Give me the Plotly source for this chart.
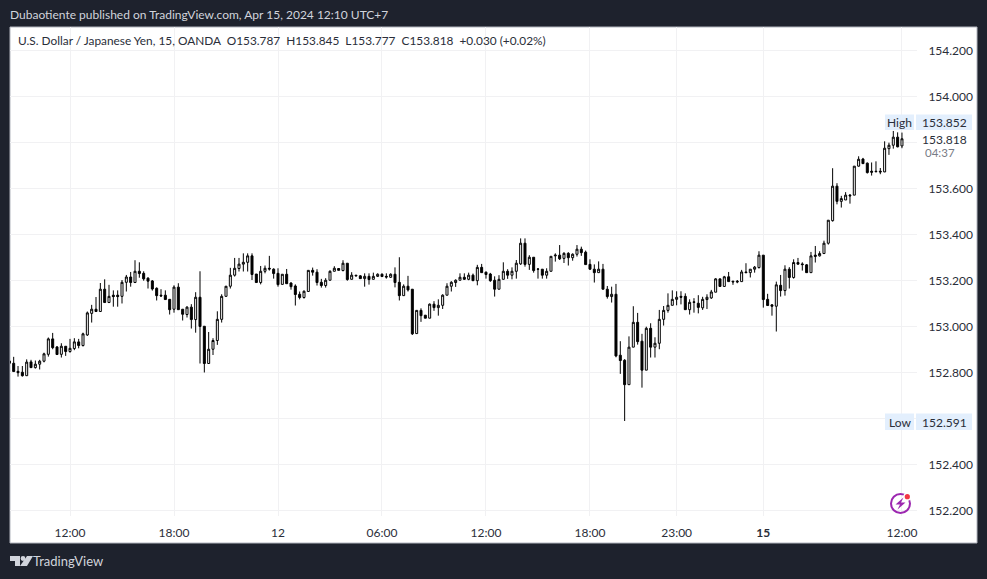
import plotly.graph_objects as go

W, H = 987, 579
PL, PR, PT, PB = 10, 917, 27, 516

bar_index = list(range(-14, 193))
opens = [
152.852,152.842,152.807,152.803,152.788,152.848,152.823,152.838,152.851,152.881,
152.948,152.913,152.881,152.916,152.893,152.906,152.935,152.919,152.965,153.059,
153.077,153.067,153.164,153.106,153.138,153.138,153.133,153.194,153.217,153.193,
153.242,153.233,153.212,153.200,153.168,153.138,153.138,153.120,153.077,153.173,
153.077,153.054,153.086,153.032,153.129,153.003,152.841,152.903,152.941,153.033,
153.133,153.177,153.225,153.254,153.273,153.281,153.309,153.230,153.193,153.242,
153.255,153.251,153.233,153.185,153.229,153.191,153.178,153.142,153.128,153.154,
153.246,153.238,153.194,153.180,153.203,153.242,153.254,153.245,153.277,153.207,
153.225,153.222,153.210,153.220,153.207,153.220,153.229,153.220,153.216,153.229,
153.194,153.136,153.177,153.164,152.971,153.072,153.051,153.038,153.099,153.084,
153.094,153.138,153.177,153.193,153.203,153.216,153.207,153.225,153.201,153.259,
153.238,153.230,153.203,153.164,153.207,153.242,153.225,153.242,153.274,153.364,
153.272,153.303,153.252,153.251,153.225,153.242,153.309,153.312,153.298,153.320,
153.301,153.316,153.338,153.325,153.272,153.251,153.236,153.251,153.164,153.132,
153.142,152.877,152.855,152.749,152.912,153.020,152.938,152.812,152.994,152.912,
152.929,153.033,153.072,153.094,153.120,153.133,153.133,153.075,153.109,153.103,
153.083,153.119,153.126,153.151,153.209,153.176,153.218,153.199,153.199,153.197,
153.239,153.236,153.251,153.258,153.312,153.120,153.096,153.090,153.181,153.158,
153.251,153.215,153.280,153.274,153.270,153.236,153.312,153.309,153.319,153.364,
153.462,153.612,153.546,153.552,153.573,153.573,153.699,153.730,153.712,153.677,
153.677,153.677,153.674,153.775,153.790,153.825,153.787]
highs = [
152.859,152.870,152.830,152.830,152.859,152.857,152.854,152.857,152.888,152.954,
152.974,152.917,152.929,152.917,152.948,152.951,152.948,152.975,153.067,153.096,
153.130,153.191,153.207,153.183,153.159,153.159,153.204,153.226,153.239,153.290,
153.281,153.242,153.216,153.204,153.172,153.164,153.159,153.120,153.181,153.190,
153.077,153.090,153.099,153.151,153.242,153.003,152.978,152.951,153.068,153.142,
153.178,153.257,153.300,153.300,153.320,153.320,153.320,153.230,153.265,153.267,
153.309,153.255,153.255,153.229,153.252,153.194,153.185,153.154,153.159,153.246,
153.258,153.251,153.209,153.212,153.246,153.264,153.255,153.290,153.277,153.238,
153.225,153.225,153.233,153.233,153.236,153.233,153.233,153.233,153.233,153.259,
153.303,153.185,153.222,153.164,153.072,153.081,153.052,153.102,153.112,153.120,
153.142,153.190,153.199,153.207,153.233,153.233,153.236,153.232,153.270,153.274,
153.241,153.235,153.220,153.225,153.281,153.251,153.259,153.291,153.385,153.385,
153.312,153.303,153.255,153.251,153.255,153.307,153.320,153.356,153.325,153.325,
153.320,153.356,153.349,153.332,153.294,153.272,153.285,153.274,153.178,153.175,
153.187,152.938,152.860,152.959,153.090,153.061,152.970,153.001,153.016,152.955,
153.074,153.091,153.146,153.159,153.155,153.155,153.146,153.120,153.125,153.138,
153.131,153.142,153.161,153.212,153.209,153.222,153.239,153.200,153.204,153.248,
153.277,153.251,153.265,153.329,153.312,153.144,153.099,153.197,153.226,153.268,
153.260,153.294,153.300,153.281,153.273,153.326,153.352,153.329,153.375,153.464,
153.690,153.625,153.570,153.586,153.578,153.699,153.742,153.735,153.715,153.715,
153.720,153.691,153.807,153.801,153.852,153.846,153.845]
lows = [
152.836,152.806,152.784,152.784,152.788,152.823,152.819,152.815,152.846,152.871,
152.903,152.880,152.867,152.874,152.888,152.899,152.907,152.915,152.961,153.019,
153.067,153.067,153.106,153.106,153.088,153.088,153.102,153.154,153.175,153.193,
153.214,153.201,153.167,153.158,153.115,153.130,153.119,153.054,153.062,153.075,
153.028,153.041,152.993,152.975,152.841,152.802,152.841,152.878,152.922,153.019,
153.133,153.167,153.219,153.241,153.241,153.241,153.204,153.193,153.185,153.233,
153.245,153.210,153.175,153.185,153.188,153.162,153.093,153.120,153.123,153.154,
153.223,153.180,153.171,153.171,153.203,153.242,153.246,153.242,153.201,153.207,
153.222,153.210,153.175,153.184,153.207,153.217,153.219,153.210,153.213,153.172,
153.115,153.136,153.154,152.965,152.971,153.022,153.038,153.038,153.070,153.049,
153.078,153.138,153.154,153.174,153.203,153.204,153.203,153.201,153.181,153.236,
153.210,153.196,153.132,153.164,153.207,153.209,153.207,153.210,153.270,153.262,
153.248,153.236,153.210,153.210,153.210,153.242,153.284,153.291,153.278,153.267,
153.288,153.306,153.309,153.271,153.248,153.193,153.236,153.164,153.123,153.106,
152.868,152.796,152.591,152.749,152.912,152.923,152.736,152.812,152.867,152.867,
152.903,153.006,153.062,153.094,153.094,153.098,153.075,153.054,153.062,153.059,
153.074,153.078,153.122,153.151,153.176,153.176,153.197,153.183,153.190,153.197,
153.236,153.215,153.236,153.254,153.084,153.093,153.049,152.980,153.132,153.136,
153.167,153.210,153.271,153.245,153.236,153.236,153.280,153.306,153.319,153.358,
153.458,153.533,153.519,153.552,153.536,153.573,153.697,153.710,153.667,153.658,
153.673,153.664,153.673,153.748,153.775,153.781,153.777]
closes = [
152.842,152.806,152.801,152.788,152.847,152.823,152.838,152.851,152.883,152.948,
152.910,152.880,152.916,152.893,152.907,152.935,152.919,152.970,153.061,153.077,
153.067,153.164,153.106,153.133,153.132,153.132,153.194,153.217,153.193,153.242,
153.232,153.209,153.199,153.165,153.136,153.135,153.119,153.075,153.173,153.075,
153.055,153.086,153.032,153.129,153.002,152.841,152.903,152.941,153.033,153.133,
153.177,153.225,153.255,153.273,153.281,153.309,153.228,153.193,153.242,153.255,
153.252,153.232,153.184,153.229,153.188,153.175,153.141,153.128,153.155,153.246,
153.238,153.193,153.180,153.203,153.242,153.255,153.246,153.277,153.206,153.225,
153.222,153.210,153.220,153.206,153.220,153.229,153.219,153.217,153.229,153.193,
153.136,153.177,153.161,152.970,153.072,153.049,153.038,153.099,153.084,153.094,
153.138,153.177,153.194,153.203,153.216,153.207,153.225,153.201,153.259,153.236,
153.228,153.201,153.164,153.207,153.242,153.225,153.242,153.277,153.364,153.272,
153.303,153.245,153.251,153.225,153.242,153.307,153.312,153.296,153.320,153.301,
153.316,153.338,153.323,153.271,153.251,153.236,153.251,153.164,153.132,153.142,
152.874,152.854,152.749,152.912,153.020,152.936,152.812,152.994,152.912,152.929,
153.033,153.072,153.094,153.120,153.129,153.129,153.075,153.107,153.107,153.085,
153.120,153.129,153.152,153.209,153.176,153.218,153.197,153.196,153.196,153.239,
153.236,153.251,153.260,153.312,153.119,153.093,153.090,153.183,153.158,153.251,
153.215,153.280,153.273,153.271,153.236,153.309,153.307,153.319,153.364,153.464,
153.612,153.546,153.558,153.573,153.570,153.699,153.729,153.710,153.671,153.673,
153.675,153.674,153.777,153.790,153.825,153.783,153.818]

x_tick_index = [0, 24, 48, 72, 96, 120, 140, 160, 192]
x_tick_labels = ["12:00", "18:00", "12", "06:00", "12:00", "18:00", "23:00", "<b>15</b>", "12:00"]
y_tick_values = [152.2, 152.4, 152.6, 152.8, 153.0, 153.2, 153.4, 153.6, 153.8, 154.0, 154.2]
y_tick_labels = ["152.200", "152.400", "", "152.800", "153.000", "153.200", "153.400", "153.600", "", "154.000", "154.200"]

FONT = "Lato"
DARK = "#1e222d"
TXT = "#2a2e39"
GRID = "#f1f1f3"


def px(x):
    return (x - PL) / (PR - PL)


def py(y):
    return (PB - y) / (PB - PT)


fig = go.Figure(go.Candlestick(
    x=bar_index, open=opens, high=highs, low=lows, close=closes,
    increasing=dict(line=dict(color="#000000", width=1), fillcolor="#ffffff"),
    decreasing=dict(line=dict(color="#000000", width=1), fillcolor="#000000"),
    whiskerwidth=0, showlegend=False, hoverinfo="skip",
))

shapes = [
    dict(type="rect", xref="paper", yref="paper", layer="below",
         x0=px(10), x1=px(977), y0=py(543), y1=py(27),
         fillcolor="#ffffff", line=dict(color="#b2b5be", width=1)),
]


def rect(x0, x1, y0, y1, color):
    shapes.append(dict(type="rect", xref="paper", yref="paper", x0=px(x0), x1=px(x1),
                       y0=py(y1), y1=py(y0), fillcolor=color, line=dict(width=0), layer="above"))


def path(points, color):
    d = "M " + " L ".join(f"{px(a):.5f},{py(b):.5f}" for a, b in points) + " Z"
    shapes.append(dict(type="path", xref="paper", yref="paper", path=d,
                       fillcolor=color, line=dict(width=0), layer="above"))


def circle(cx, cy, r, fill, line=None, lw=0):
    shapes.append(dict(type="circle", xref="paper", yref="paper",
                       x0=px(cx - r), x1=px(cx + r), y0=py(cy + r), y1=py(cy - r),
                       fillcolor=fill, line=dict(color=line or fill, width=lw), layer="above"))


# High / Low tags
rect(885, 914, 114.5, 130, "#e3effd")
rect(916, 972, 114.5, 130, "#e3effd")
rect(885, 914, 413.5, 430, "#e3effd")
rect(916, 972, 413.5, 430, "#e3effd")

# publisher icon
circle(900.5, 503.5, 9.5, "rgba(255,255,255,0)", "#9c27b0", 2)
circle(907.3, 496.7, 4, "#ffffff")
circle(907.3, 496.7, 2.6, "#f23645")
path([(903.5, 497.5), (895.5, 504.5), (900, 504.5), (897.5, 509.5), (905.5, 502.5), (901, 502.5)], "#9c27b0")

# TradingView logo
LOGO = "#d1d4dc"
path([(10, 556), (20, 556), (20, 566), (15, 566), (15, 561), (10, 561)], LOGO)
circle(23, 558.5, 2.4, LOGO)
path([(27, 556), (33, 556), (27, 566), (20, 566)], LOGO)


def note(x, y, text, color=TXT, size=12, anchor="left", family=FONT):
    return dict(xref="paper", yref="paper", x=px(x), y=py(y), text=text, showarrow=False,
                xanchor=anchor, yanchor="middle", align=anchor, borderpad=0, borderwidth=0,
                font=dict(family=family, size=size, color=color))


annotations = [
    note(10, 14, "Dubaotiente published on TradingView.com, Apr 15, 2024 12:10 UTC+7", "#d1d4dc", 12),
    note(18, 41, "U.S. Dollar / Japanese Yen, 15, OANDA&#160;&#160;O153.787&#160;&#160;H153.845&#160;&#160;L153.777&#160;&#160;C153.818&#160;&#160;+0.030 (+0.02%)", size=11.85),
    note(899.5, 122, "High", anchor="center"),
    note(944, 122, "153.852", anchor="center"),
    note(899.5, 422, "Low", anchor="center"),
    note(944, 422, "152.591", anchor="center"),
    note(945, 139, "153.818", anchor="center"),
    note(925, 153, "04:37", "#787b86", 11.5),
    note(33, 561, "TradingView", "#d1d4dc", 13),
]

fig.update_layout(
    width=W, height=H, autosize=False,
    margin=dict(l=PL, r=W - PR, t=PT, b=H - PB, pad=0),
    paper_bgcolor=DARK, plot_bgcolor="rgba(0,0,0,0)",
    font=dict(family=FONT, size=12, color=TXT),
    boxgap=0.54, boxgroupgap=0,
    shapes=shapes, annotations=annotations, showlegend=False,
    xaxis=dict(type="linear", range=[-13.85, 195.47], tickmode="array",
               tickvals=x_tick_index, ticktext=x_tick_labels,
               showgrid=True, gridcolor=GRID, gridwidth=1, zeroline=False,
               showline=False, ticks="outside", ticklen=6, tickcolor="rgba(0,0,0,0)",
               rangeslider=dict(visible=False),
               tickfont=dict(family=FONT, size=12, color=TXT)),
    yaxis=dict(side="right", range=[152.178, 154.304], tickmode="array",
               tickvals=y_tick_values, ticktext=y_tick_labels,
               showgrid=True, gridcolor=GRID, gridwidth=1, zeroline=False,
               showline=False, ticks="outside", ticklen=8, tickcolor="rgba(0,0,0,0)",
               tickfont=dict(family=FONT, size=12, color=TXT)),
)

fig.write_html("out.html", config=dict(displayModeBar=False),
               post_script="document.body.style.margin='0';document.body.style.background='#1e222d';")
